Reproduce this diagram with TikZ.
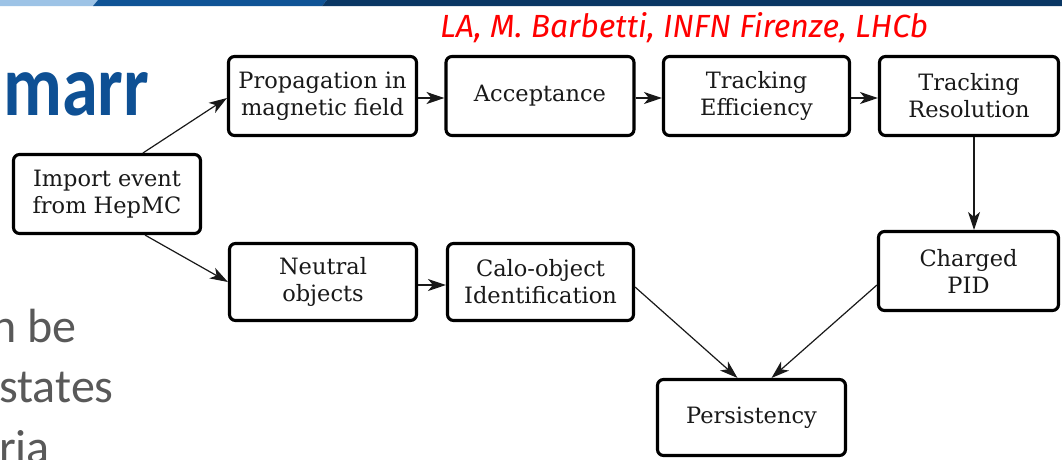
\documentclass[tikz,border=0pt]{standalone}
\usepackage{fontspec}
\usetikzlibrary{arrows.meta,calc}
\newfontfamily\flowfont{DejaVu Serif}
\newfontfamily\slidefont{Carlito}
\newfontfamily\notefont{Fira Sans}
\definecolor{barlight}{RGB}{157,195,230}
\definecolor{barmid}{RGB}{16,84,150}
\definecolor{bardark}{RGB}{10,55,100}
\definecolor{titleblue}{RGB}{14,80,148}
\definecolor{bodygray}{RGB}{89,89,89}
\begin{document}
\begin{tikzpicture}[x=1pt,y=-1pt,
  stagebox/.style={draw=black, line width=3.1pt, rounded corners=6pt, fill=white,
    minimum width=188pt, minimum height=79pt, inner sep=0pt, align=center,
    font=\flowfont\fontsize{22.5}{27}\selectfont, text=black!90},
  flow/.style={line width=1.2pt, draw=black!90,
    -{Stealth[length=18pt,width=12pt,inset=5pt]}},
  bodytext/.style={anchor=base west, inner sep=0pt, text=bodygray,
    font=\slidefont\fontsize{48}{56}\selectfont}]
% page and slide header bar
\fill[white] (0,0) rectangle (1062,459);
\useasboundingbox (0,0) rectangle (1062,459);
\fill[barlight] (0,0) -- (98,0) -- (93,6) -- (0,6) -- cycle;
\fill[barmid] (98,0) -- (327,0) -- (322,6) -- (93,6) -- cycle;
\fill[bardark] (327,0) -- (1062,0) -- (1062,6) -- (322,6) -- cycle;

% slide title fragment and body text
\node[anchor=base west, inner sep=0pt, text=titleblue] (title) at (3,115)
  {\resizebox{146pt}{43pt}{\slidefont\bfseries marr}};
\node[bodytext] (line1) at (-9,342) {n be};
\node[bodytext] (line2) at (-1,402) {states};
\node[bodytext] (line3) at (-1,463) {ria};

% author note
\node[anchor=base west, inner sep=0pt, text=red] (note) at (440,37)
  {\resizebox{488pt}{25pt}{\notefont\itshape LA, M. Barbetti, INFN Firenze, LHCb}};

% processing stages
\node[stagebox, minimum width=187pt] (imp) at (107,194) {Import event\\from HepMC};
\node[stagebox] (prop) at (322.5,96) {Propagation in\\magnetic field};
\node[stagebox] (acc) at (540,96) {Acceptance};
\node[stagebox, minimum width=186pt] (te) at (756.5,96) {Tracking\\Efficiency};
\node[stagebox, minimum width=179pt] (tr) at (969,96) {Tracking\\Resolution};
\node[stagebox, minimum width=187pt, minimum height=77pt] (neu) at (323,282) {Neutral\\objects};
\node[stagebox, minimum width=186pt, minimum height=77pt] (calo) at (540.5,282) {Calo-object\\Identification};
\node[stagebox, minimum width=180pt] (pid) at (968.5,271) {Charged\\PID};
\node[stagebox, minimum height=76pt] (per) at (751.5,417.5) {Persistency};

% data flow
\draw[flow] ([xshift=36pt]imp.north) -- ([yshift=-2pt]prop.west);
\draw[flow] ([xshift=38pt]imp.south) -- (neu.west);
\draw[flow] ([yshift=-2pt]prop.east) -- ([yshift=-2pt]acc.west);
\draw[flow] ([yshift=-2pt]acc.east) -- ([yshift=-2pt]te.west);
\draw[flow] ([yshift=-2pt]te.east) -- ([yshift=-2pt]tr.west);
\draw[flow] ([yshift=-3pt]neu.east) -- ([yshift=-3pt]calo.west);
\draw[flow] ([xshift=5pt]tr.south) -- ([xshift=5.5pt]pid.north);
\draw[flow] ([yshift=-5pt]calo.east) -- ([xshift=-14pt]per.north);
\draw[flow] ([yshift=-14pt]pid.west) -- ([xshift=20pt]per.north);
\end{tikzpicture}
\end{document}
